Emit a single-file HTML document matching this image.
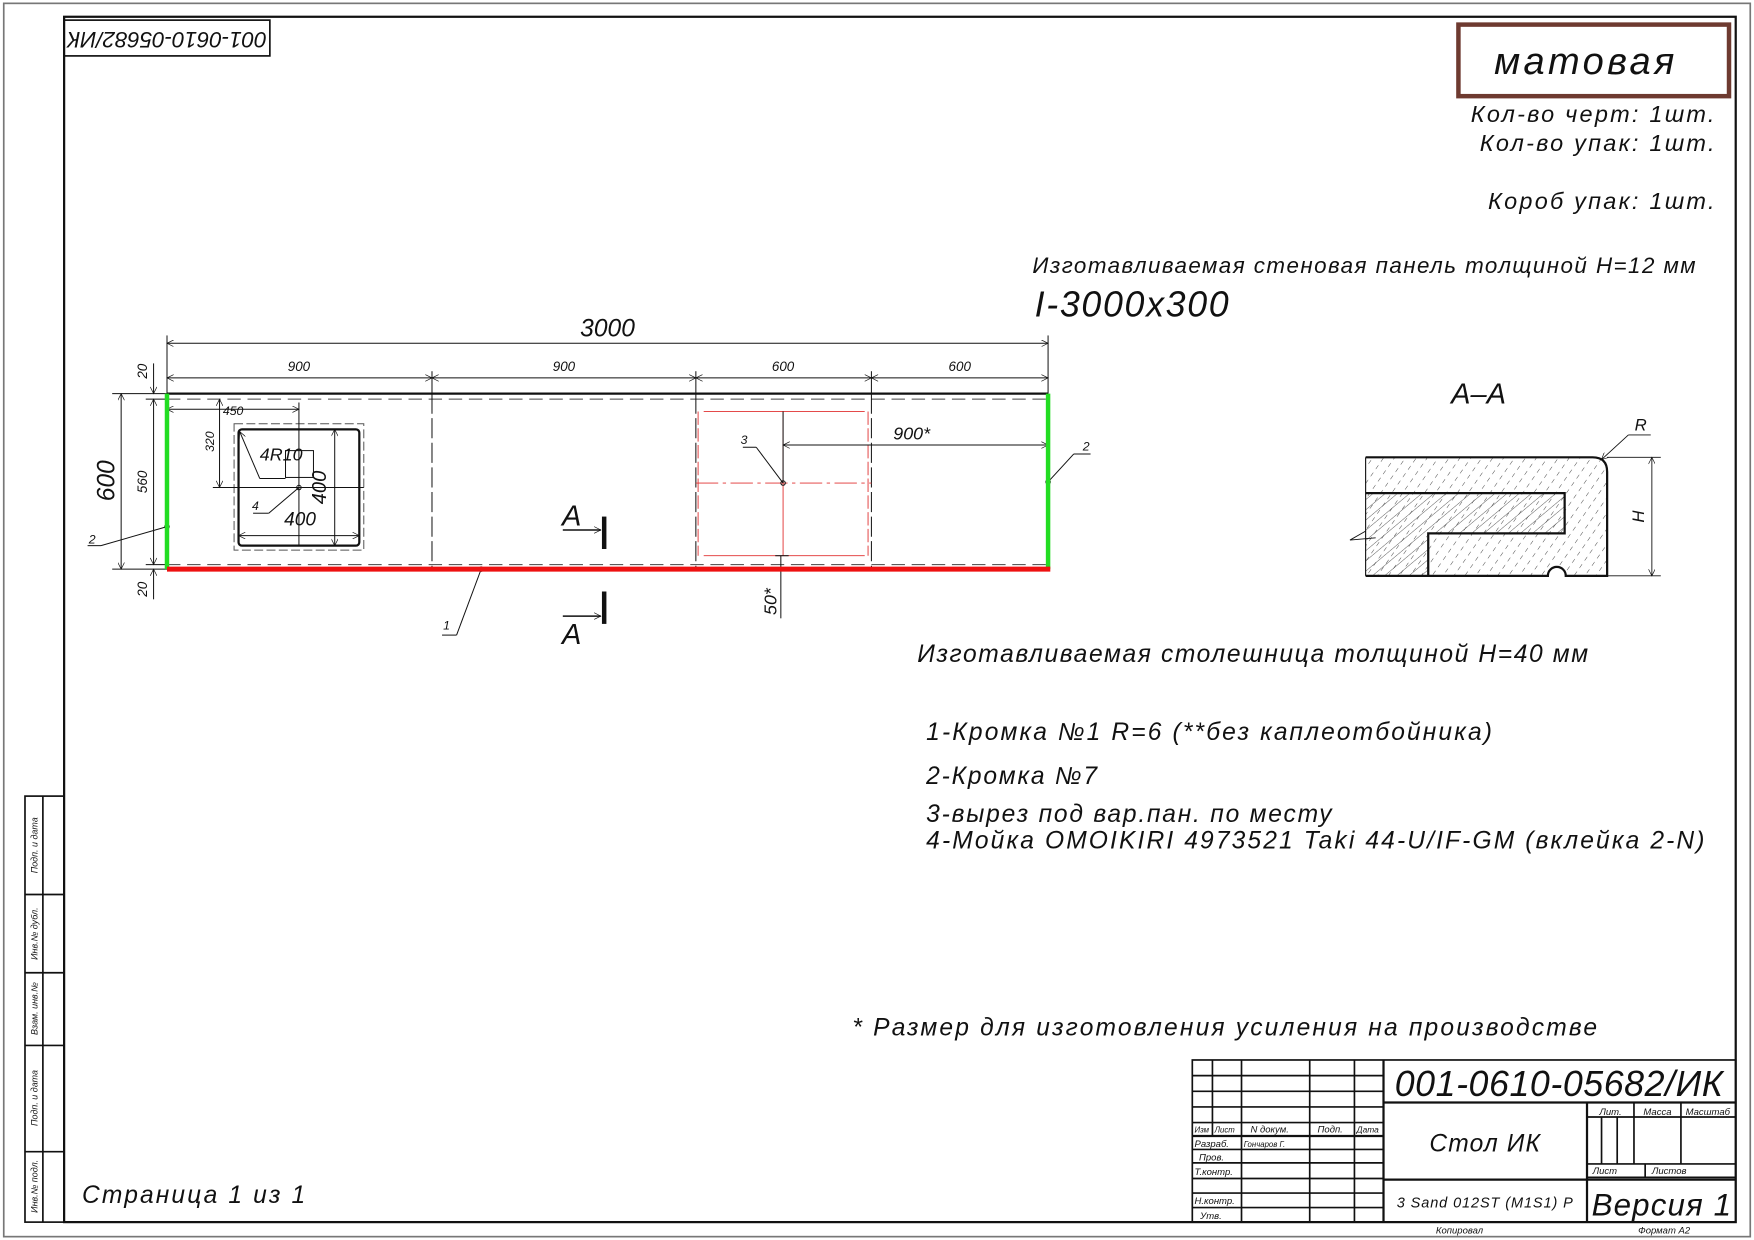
<!DOCTYPE html>
<html><head><meta charset="utf-8"><style>
html,body{margin:0;padding:0;background:#fff}
svg{display:block}
text{font-family:"Liberation Sans","DejaVu Sans",sans-serif;font-style:italic;fill:#111}
</style></head><body>
<svg width="1754" height="1240" viewBox="0 0 1568 1109" xmlns="http://www.w3.org/2000/svg">
<defs>
<pattern id="hd" width="8" height="8" patternUnits="userSpaceOnUse" patternTransform="rotate(35)">
<line x1="0" y1="2" x2="0" y2="6" stroke="#333" stroke-width="0.8"/></pattern>
<pattern id="hw" width="7" height="7" patternUnits="userSpaceOnUse" patternTransform="rotate(50)">
<line x1="0" y1="0" x2="0" y2="7" stroke="#333" stroke-width="0.7"/></pattern>
<marker id="ar" viewBox="0 0 10 10" refX="10" refY="5" markerWidth="10" markerHeight="6" orient="auto-start-reverse" markerUnits="userSpaceOnUse"><path d="M0,0 L10,5 L0,10" fill="none" stroke="#111" stroke-width="1"/></marker>
</defs>
<rect x="3" y="3" width="1562" height="1103" fill="none" stroke="#777" stroke-width="1.5"/>
<rect x="57" y="15" width="1495" height="1078" fill="none" stroke="#111" stroke-width="2"/>
<rect x="57" y="18" width="184" height="32" fill="none" stroke="#111" stroke-width="1.5"/>
<text transform="translate(149,34) rotate(180)" font-size="20" text-anchor="middle" dominant-baseline="middle">001-0610-05682/ИК</text>
<rect x="1304" y="22" width="242" height="64" fill="none" stroke="#6e3a30" stroke-width="4"/>
<text x="1418" y="66" font-size="34" text-anchor="middle" letter-spacing="3">матовая</text>
<text x="1535" y="109" font-size="21" text-anchor="end" letter-spacing="2">Кол-во  черт:  1шт.</text>
<text x="1535" y="135" font-size="21" text-anchor="end" letter-spacing="2">Кол-во  упак:  1шт.</text>
<text x="1535" y="187" font-size="21" text-anchor="end" letter-spacing="2">Короб  упак:  1шт.</text>
<text x="923" y="244" font-size="20" letter-spacing="1.3">Изготавливаемая  стеновая  панель  толщиной  H=12  мм</text>
<text x="925" y="283" font-size="32" letter-spacing="1.5">I-3000x300</text>
<g stroke="#111" fill="none" stroke-width="0.9">
<line x1="149" y1="300" x2="149" y2="352"/><line x1="937" y1="300" x2="937" y2="352"/>
<line x1="386" y1="332" x2="386" y2="352"/><line x1="622" y1="332" x2="622" y2="352"/><line x1="779" y1="332" x2="779" y2="352"/>
<line x1="149" y1="307" x2="937" y2="307" marker-start="url(#ar)" marker-end="url(#ar)"/>
<line x1="149" y1="338" x2="386" y2="338" marker-start="url(#ar)" marker-end="url(#ar)"/>
<line x1="386" y1="338" x2="622" y2="338" marker-start="url(#ar)" marker-end="url(#ar)"/>
<line x1="622" y1="338" x2="779" y2="338" marker-start="url(#ar)" marker-end="url(#ar)"/>
<line x1="779" y1="338" x2="937" y2="338" marker-start="url(#ar)" marker-end="url(#ar)"/>
<line x1="149" y1="352" x2="937" y2="352" stroke-width="2"/>
<line x1="149" y1="357" x2="937" y2="357" stroke-dasharray="12,6" stroke="#444"/>
<line x1="149" y1="505" x2="937" y2="505" stroke-dasharray="12,6" stroke="#444"/>
<line x1="386" y1="352" x2="386" y2="509" stroke-dasharray="18,4"/>
<line x1="622" y1="352" x2="622" y2="509" stroke-dasharray="18,4"/>
<line x1="779" y1="352" x2="779" y2="509" stroke-dasharray="18,4"/>
<line x1="100" y1="352" x2="149" y2="352"/><line x1="100" y1="509" x2="149" y2="509"/>
<line x1="130" y1="357" x2="149" y2="357"/><line x1="130" y1="505" x2="149" y2="505"/>
<line x1="108" y1="352" x2="108" y2="509" marker-start="url(#ar)" marker-end="url(#ar)"/>
<line x1="137" y1="357" x2="137" y2="505" marker-start="url(#ar)" marker-end="url(#ar)"/>
<line x1="137" y1="325" x2="137" y2="352" marker-end="url(#ar)"/>
<line x1="137" y1="536" x2="137" y2="509" marker-end="url(#ar)"/>
<rect x="209" y="379" width="116" height="113" stroke-dasharray="8,3" stroke="#555"/>
<rect x="213" y="384" width="108" height="104" rx="3" stroke-width="2"/>
<line x1="149" y1="366" x2="267" y2="366" marker-start="url(#ar)" marker-end="url(#ar)"/>
<line x1="267" y1="360" x2="267" y2="488"/>
<line x1="196" y1="357" x2="196" y2="436" marker-start="url(#ar)" marker-end="url(#ar)"/>
<line x1="190" y1="436" x2="325" y2="436"/>
<line x1="213" y1="479" x2="321" y2="479" marker-start="url(#ar)" marker-end="url(#ar)"/>
<line x1="299" y1="384" x2="299" y2="488" marker-start="url(#ar)" marker-end="url(#ar)"/>
<rect x="255" y="403" width="25" height="24"/>
<line x1="214" y1="386" x2="232" y2="428" marker-start="url(#ar)"/>
<line x1="232" y1="428" x2="255" y2="428"/>
<circle cx="267" cy="436" r="2"/>
<line x1="267" y1="436" x2="240" y2="459"/><line x1="240" y1="459" x2="226" y2="459"/>
<g stroke="#e03030" stroke-width="0.8">
<line x1="629" y1="368" x2="773" y2="368"/><line x1="629" y1="497" x2="773" y2="497"/>
<line x1="624" y1="368" x2="624" y2="497" stroke-dasharray="12,3"/><line x1="776" y1="368" x2="776" y2="497" stroke-dasharray="12,3"/>
<line x1="622" y1="432" x2="779" y2="432" stroke-dasharray="20,4,3,4"/>
<line x1="700" y1="368" x2="700" y2="497"/>
</g>
<line x1="700" y1="368" x2="700" y2="432"/>
<circle cx="700" cy="432" r="2"/>
<line x1="700" y1="398" x2="937" y2="398" marker-start="url(#ar)" marker-end="url(#ar)"/>
<line x1="700" y1="432" x2="676" y2="400"/><line x1="676" y1="400" x2="664" y2="400"/>
<line x1="698" y1="497" x2="698" y2="553"/>
<line x1="693" y1="497" x2="705" y2="497"/>
<line x1="680" y1="509" x2="715" y2="509"/>
<circle cx="149" cy="471" r="2"/><line x1="149" y1="471" x2="90" y2="488"/><line x1="90" y1="488" x2="78" y2="488"/>
<circle cx="937" cy="431" r="2"/><line x1="937" y1="431" x2="960" y2="406"/><line x1="960" y1="406" x2="975" y2="406"/>
<circle cx="430" cy="509" r="2"/><line x1="430" y1="509" x2="408" y2="568"/><line x1="408" y1="568" x2="395" y2="568"/>
<line x1="503" y1="474" x2="537" y2="474" marker-end="url(#ar)" stroke-width="1.3"/>
<line x1="503" y1="551" x2="537" y2="551" marker-end="url(#ar)" stroke-width="1.3"/>
</g>
<line x1="540" y1="462" x2="540" y2="491" stroke="#111" stroke-width="4"/>
<line x1="540" y1="529" x2="540" y2="558" stroke="#111" stroke-width="4"/>
<line x1="149" y1="352" x2="149" y2="509" stroke="#22dd22" stroke-width="4"/>
<line x1="937" y1="352" x2="937" y2="509" stroke="#22dd22" stroke-width="4"/>
<line x1="149" y1="509" x2="939" y2="509" stroke="#ee1111" stroke-width="4.5"/>
<text x="543" y="301" font-size="22" text-anchor="middle">3000</text>
<text x="267" y="332" font-size="12" text-anchor="middle">900</text>
<text x="504" y="332" font-size="12" text-anchor="middle">900</text>
<text x="700" y="332" font-size="12" text-anchor="middle">600</text>
<text x="858" y="332" font-size="12" text-anchor="middle">600</text>
<text transform="translate(102,430) rotate(-90)" font-size="22" text-anchor="middle">600</text>
<text transform="translate(131,431) rotate(-90)" font-size="12" text-anchor="middle">560</text>
<text transform="translate(131,332) rotate(-90)" font-size="12" text-anchor="middle">20</text>
<text transform="translate(131,527) rotate(-90)" font-size="12" text-anchor="middle">20</text>
<text x="199" y="371" font-size="11">450</text>
<text transform="translate(191,395) rotate(-90)" font-size="11" text-anchor="middle">320</text>
<text x="232" y="412" font-size="16">4R10</text>
<text transform="translate(291,436) rotate(-90)" font-size="18" text-anchor="middle">400</text>
<text x="268" y="470" font-size="17" text-anchor="middle">400</text>
<text x="225" y="456" font-size="11">4</text>
<text x="815" y="393" font-size="16" text-anchor="middle">900*</text>
<text x="662" y="397" font-size="11">3</text>
<text transform="translate(694,538) rotate(-90)" font-size="16" text-anchor="middle">50*</text>
<text x="79" y="486" font-size="11">2</text>
<text x="968" y="403" font-size="11">2</text>
<text x="396" y="563" font-size="11">1</text>
<text x="511" y="470" font-size="26" text-anchor="middle">A</text>
<text x="511" y="576" font-size="26" text-anchor="middle">A</text>
<text x="1322" y="361" font-size="26" text-anchor="middle">A–A</text>
<path d="M1221,409 L1424,409 Q1437,409 1437,422 L1437,515 L1400,515 A8,8 0 0 0 1384,515 L1221,515 Z" fill="url(#hd)" stroke="none"/>
<path d="M1221,441 L1399,441 L1399,477 L1277,477 L1277,515 L1221,515 Z" fill="url(#hw)" stroke="none"/>
<g stroke="#111" fill="none">
<path d="M1221,409 L1424,409 Q1437,409 1437,422 L1437,515 L1400,515 A8,8 0 0 0 1384,515 L1221,515" stroke-width="2"/>
<line x1="1221" y1="409" x2="1221" y2="515" stroke-width="1"/>
<path d="M1221,441 L1399,441 L1399,477 L1277,477 L1277,515" stroke-width="2"/>
<line x1="1437" y1="409" x2="1485" y2="409" stroke-width="0.8"/>
<line x1="1437" y1="515" x2="1485" y2="515" stroke-width="0.8"/>
<line x1="1477" y1="409" x2="1477" y2="515" marker-start="url(#ar)" marker-end="url(#ar)" stroke-width="0.8"/>
<line x1="1456" y1="389" x2="1432" y2="411" marker-end="url(#ar)" stroke-width="0.8"/>
<line x1="1456" y1="389" x2="1476" y2="389" stroke-width="0.8"/>
<path d="M1221,475 L1207,483 L1230,481" stroke-width="0.8"/>
</g>
<text x="1467" y="385" font-size="15" text-anchor="middle">R</text>
<text transform="translate(1470,462) rotate(-90)" font-size="15" text-anchor="middle">H</text>
<text x="820" y="592" font-size="22" letter-spacing="1.45">Изготавливаемая  столешница  толщиной  H=40  мм</text>
<text x="828" y="662" font-size="22" letter-spacing="1.9">1-Кромка  №1  R=6  (**без  каплеотбойника)</text>
<text x="828" y="701" font-size="22" letter-spacing="1.6">2-Кромка  №7</text>
<text x="828" y="735" font-size="22" letter-spacing="1.6">3-вырез  под  вар.пан.  по  месту</text>
<text x="828" y="759" font-size="22" letter-spacing="1.9">4-Мойка  OMOIKIRI  4973521  Taki  44-U/IF-GM  (вклейка  2-N)</text>
<text x="762" y="926" font-size="22" letter-spacing="1.95">*  Размер  для  изготовления  усиления  на  производстве</text>
<text x="73" y="1076" font-size="22" letter-spacing="1.9">Страница  1  из  1</text>
<g stroke="#111" fill="none" stroke-width="1.5">
<rect x="22" y="712" width="35" height="381"/>
<line x1="38" y1="712" x2="38" y2="1093"/>
<line x1="22" y1="800" x2="57" y2="800"/><line x1="22" y1="870" x2="57" y2="870"/>
<line x1="22" y1="935" x2="57" y2="935"/><line x1="22" y1="1030" x2="57" y2="1030"/>
</g>
<g font-size="8">
<text transform="translate(33,756) rotate(-90)" text-anchor="middle">Подп. и дата</text>
<text transform="translate(33,835) rotate(-90)" text-anchor="middle">Инв.№ дубл.</text>
<text transform="translate(33,902) rotate(-90)" text-anchor="middle">Взам. инв.№</text>
<text transform="translate(33,982) rotate(-90)" text-anchor="middle">Подп. и дата</text>
<text transform="translate(33,1061) rotate(-90)" text-anchor="middle">Инв.№ подл.</text>
</g>
<g stroke="#111" fill="none" stroke-width="1.5">
<rect x="1066" y="948" width="486" height="145"/>
<line x1="1084" y1="948" x2="1084" y2="1016"/><line x1="1110" y1="948" x2="1110" y2="1093"/>
<line x1="1171" y1="948" x2="1171" y2="1093"/><line x1="1211" y1="948" x2="1211" y2="1093"/>
<line x1="1237" y1="948" x2="1237" y2="1093" stroke-width="2"/>
<line x1="1066" y1="962" x2="1237" y2="962"/><line x1="1066" y1="976" x2="1237" y2="976"/>
<line x1="1066" y1="990" x2="1237" y2="990"/><line x1="1066" y1="1004" x2="1237" y2="1004"/>
<line x1="1066" y1="1016" x2="1237" y2="1016" stroke-width="2"/>
<line x1="1066" y1="1028" x2="1237" y2="1028"/><line x1="1066" y1="1040" x2="1237" y2="1040"/>
<line x1="1066" y1="1054" x2="1237" y2="1054"/><line x1="1066" y1="1067" x2="1237" y2="1067"/>
<line x1="1066" y1="1080" x2="1237" y2="1080"/>
<line x1="1237" y1="986" x2="1552" y2="986" stroke-width="2"/>
<line x1="1237" y1="1055" x2="1552" y2="1055" stroke-width="2"/>
<line x1="1419" y1="986" x2="1419" y2="1093" stroke-width="2"/>
<line x1="1419" y1="999" x2="1552" y2="999"/>
<line x1="1461" y1="986" x2="1461" y2="1041"/><line x1="1503" y1="986" x2="1503" y2="1041"/>
<line x1="1432" y1="999" x2="1432" y2="1041"/><line x1="1446" y1="999" x2="1446" y2="1041"/>
<line x1="1419" y1="1041" x2="1552" y2="1041"/><line x1="1419" y1="1053" x2="1552" y2="1053"/>
<line x1="1471" y1="1041" x2="1471" y2="1053"/>
</g>
<text x="1394" y="980" font-size="32" text-anchor="middle" letter-spacing="0.5">001-0610-05682/ИК</text>
<text x="1328" y="1030" font-size="22" text-anchor="middle" letter-spacing="1">Стол ИК</text>
<text x="1328" y="1080" font-size="13" text-anchor="middle" letter-spacing="0.8">3 Sand 012ST (M1S1) P</text>
<text x="1486" y="1087" font-size="28" text-anchor="middle" letter-spacing="1">Версия 1</text>
<g font-size="8.5">
<text x="1440" y="997" text-anchor="middle">Лит.</text>
<text x="1482" y="997" text-anchor="middle">Масса</text>
<text x="1527" y="997" text-anchor="middle">Масштаб</text>
<text x="1424" y="1050">Лист</text>
<text x="1477" y="1050">Листов</text>
<text x="1068" y="1013" font-size="7">Изм</text><text x="1086" y="1013" font-size="7">Лист</text>
<text x="1118" y="1013">N докум.</text><text x="1178" y="1013">Подп.</text><text x="1213" y="1013" font-size="7.5">Дата</text>
<text x="1068" y="1026">Разраб.</text><text x="1112" y="1026" font-size="7">Гончаров Г.</text>
<text x="1072" y="1038">Пров.</text><text x="1068" y="1051">Т.контр.</text>
<text x="1068" y="1077">Н.контр.</text><text x="1073" y="1090">Утв.</text>
<text x="1305" y="1103" text-anchor="middle">Копировал</text>
<text x="1488" y="1103" text-anchor="middle">Формат  A2</text>
</g>
</svg>
</body></html>
